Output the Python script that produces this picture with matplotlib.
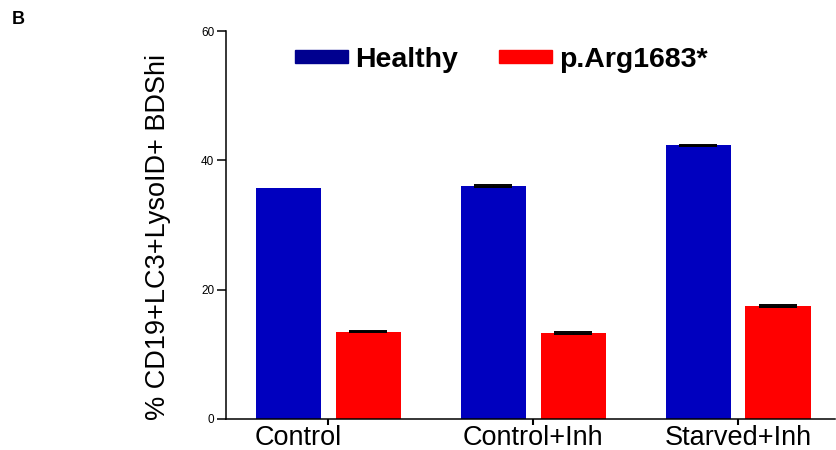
import numpy as np
import matplotlib
matplotlib.use('Agg')
import matplotlib.pyplot as plt
import matplotlib.transforms as mtransforms

plt.rcParams['font.family'] = ['Liberation Sans', 'DejaVu Sans']

# data
conditions = ['Control', 'Control+Inh', 'Starved+Inh']
healthy = [35.7, 36.0, 42.3]
healthy_err = [np.nan, 0.12, 0.12]
mutant = [13.5, 13.3, 17.5]
mutant_err = [0.12, 0.12, 0.12]
series_names = ['Healthy', 'p.Arg1683*']

fig = plt.figure(figsize=(8.36, 4.5), dpi=100)
ax = fig.add_axes([0.2703, 0.069, 0.728, 0.862])

x = np.arange(len(conditions))
w = 0.32
off = 0.195

ax.bar(x - off, healthy, w, color='#0000BF', edgecolor='none')
ax.bar(x + off, mutant, w, color='#FF0000', edgecolor='none')
# no error bar is visible on the first healthy bar
has_err = ~np.isnan(healthy_err)
ax.errorbar((x - off)[has_err], np.array(healthy)[has_err],
            yerr=np.array(healthy_err)[has_err], fmt='none', ecolor='black',
            capsize=13.5, capthick=1.4, elinewidth=1)
ax.errorbar(x + off, mutant, yerr=mutant_err, fmt='none', ecolor='black',
            capsize=13.5, capthick=1.4, elinewidth=1)

ax.set_xlim(-0.5, 2.47)
ax.set_ylim(0, 60)
ax.set_yticks([0, 20, 40, 60])
ax.set_xticks(x)
ax.set_xticklabels(conditions, fontsize=19.5)
ax.tick_params(axis='y', labelsize=8.5, length=6.5, width=1.1, pad=2)
ax.tick_params(axis='x', length=4, width=1.5, pad=0.5)
# the first category label sits a bit left of its tick in the original
shift = mtransforms.ScaledTranslation(-30 / 100, 0, fig.dpi_scale_trans)
lbl = ax.get_xticklabels()[0]
lbl.set_transform(lbl.get_transform() + shift)

for s in ['top', 'right']:
    ax.spines[s].set_visible(False)
for s in ['left', 'bottom']:
    ax.spines[s].set_linewidth(1.1)

ax.set_ylabel('% CD19+LC3+LysoID+ BDShi', fontsize=19.5)
ax.yaxis.set_label_coords(-0.09, 0.47)

# legend
h1 = plt.Rectangle((0, 0), 1, 1, color='#00008F')
h2 = plt.Rectangle((0, 0), 1, 1, color='#FF0000')
leg = fig.legend([h1, h2], series_names, loc='center left',
                 bbox_to_anchor=(295 / 836, 1 - 60 / 450), ncol=2, frameon=False,
                 prop={'weight': 'bold', 'size': 20.5}, handlelength=1.85,
                 handleheight=0.34, handletextpad=0.25, columnspacing=1.45,
                 borderpad=0, borderaxespad=0)

fig.text(12 / 836, 1 - 20 / 450, 'B', fontsize=13, fontweight='bold', va='center')

fig.savefig('out.png', dpi=100)
